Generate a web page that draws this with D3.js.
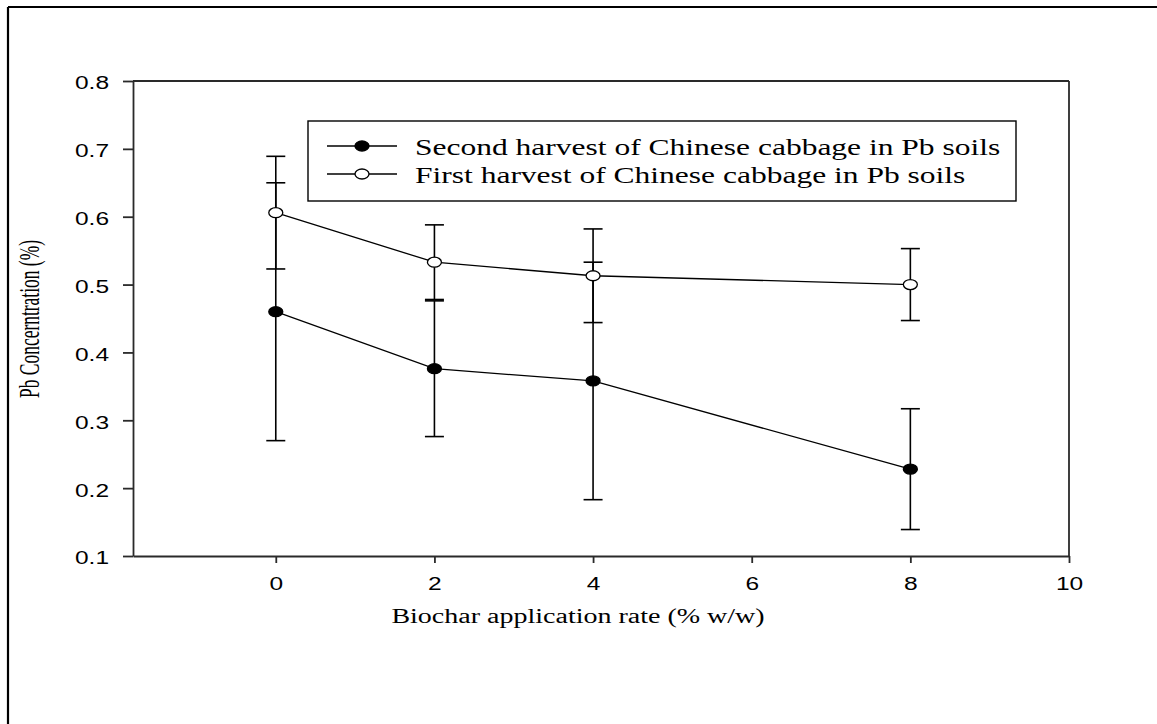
<!DOCTYPE html>
<html>
<head>
<meta charset="utf-8">
<script src="https://cdn.jsdelivr.net/npm/d3@7.9.0/dist/d3.min.js"></script>
<style>
  body { margin: 0; background: #fff; }
  svg { display: block; }
</style>
</head>
<body>
<div id="chart"></div>
<script>
// data
const rates = [0, 2, 4, 8];
const secondHarvest = [0.460, 0.376, 0.358, 0.228];
const secondErr = [0.19, 0.10, 0.175, 0.089];
const firstHarvest = [0.606, 0.533, 0.513, 0.500];
const firstErr = [0.083, 0.055, 0.069, 0.053];
const xTicks = [0, 2, 4, 6, 8, 10];
const yTicks = [0.1, 0.2, 0.3, 0.4, 0.5, 0.6, 0.7, 0.8];
const seriesNames = [
  'Second harvest of Chinese cabbage in Pb soils',
  'First harvest of Chinese cabbage in Pb soils'
];

const width = 1157, height = 724;
const plot = { left: 133, right: 1069, top: 81, bottom: 556 };
const stretch = 1.4; // text in the original is drawn wider than normal

const svg = d3.select('#chart').append('svg')
  .attr('width', width).attr('height', height);

// outer frame (top and left edges visible)
svg.append('line').attr('x1', 8).attr('x2', width).attr('y1', 7).attr('y2', 7)
  .attr('stroke', '#000').attr('stroke-width', 2.2);
svg.append('line').attr('x1', 8).attr('x2', 8).attr('y1', 7).attr('y2', height)
  .attr('stroke', '#000').attr('stroke-width', 2.2);

const x = d3.scaleLinear().domain([-1.8, 10]).range([plot.left, plot.right]);
const y = d3.scaleLinear().domain([0.1, 0.8]).range([plot.bottom, plot.top]);

function widen(sel) {
  sel.each(function () {
    const w = this.getComputedTextLength();
    d3.select(this).attr('textLength', w * stretch).attr('lengthAdjust', 'spacingAndGlyphs');
  });
}

const axisColor = '#2a2a2a';

// y axis
const gy = svg.append('g')
  .attr('transform', `translate(${plot.left},0)`)
  .call(d3.axisLeft(y).tickValues(yTicks).tickFormat(d3.format('.1f'))
    .tickSize(10).tickSizeOuter(0).tickPadding(14));
gy.select('.domain').attr('stroke', axisColor).attr('stroke-width', 1.8);
gy.selectAll('.tick line').attr('stroke', axisColor).attr('stroke-width', 1.8);
gy.selectAll('text')
  .attr('font-family', 'Liberation Sans, Arial, sans-serif')
  .attr('font-size', 17.5).attr('fill', '#000').attr('dy', '0.45em')
  .call(widen);

// x axis
const gx = svg.append('g')
  .attr('transform', `translate(0,${plot.bottom})`)
  .call(d3.axisBottom(x).tickValues(xTicks).tickFormat(d3.format('d'))
    .tickSize(7).tickSizeOuter(0).tickPadding(21));
gx.select('.domain').attr('stroke', axisColor).attr('stroke-width', 1.8);
gx.selectAll('.tick line').attr('stroke', axisColor).attr('stroke-width', 1.8);
gx.selectAll('text')
  .attr('font-family', 'Liberation Sans, Arial, sans-serif')
  .attr('font-size', 17.5).attr('fill', '#000').attr('dy', '0')
  .attr('y', 34)
  .call(widen);

// top and right frame lines
svg.append('line').attr('x1', plot.left).attr('x2', plot.right)
  .attr('y1', plot.top).attr('y2', plot.top)
  .attr('stroke', axisColor).attr('stroke-width', 1.8);
svg.append('line').attr('x1', plot.right).attr('x2', plot.right)
  .attr('y1', plot.top).attr('y2', plot.bottom)
  .attr('stroke', axisColor).attr('stroke-width', 1.8);

// axis titles
svg.append('text')
  .attr('x', 578).attr('y', 623)
  .attr('text-anchor', 'middle')
  .attr('font-family', 'Liberation Serif, Times New Roman, serif')
  .attr('font-size', 20)
  .text('Biochar application rate (% w/w)')
  .call(widen);

svg.append('g')
  .attr('transform', `translate(39,319) scale(1.5,1) rotate(-90)`)
  .append('text')
  .attr('text-anchor', 'middle')
  .attr('font-family', 'Liberation Serif, Times New Roman, serif')
  .attr('font-size', 19)
  .attr('textLength', 158).attr('lengthAdjust', 'spacingAndGlyphs')
  .text('Pb Concerntration (%)');

// series
const series = [
  { values: secondHarvest, err: secondErr, fill: '#000' },
  { values: firstHarvest, err: firstErr, fill: '#fff' }
];

const line = d3.line().x((d, i) => x(rates[i])).y(d => y(d));
const capW = 9.5;

series.forEach(s => {
  const g = svg.append('g');
  s.values.forEach((v, i) => {
    const cx = x(rates[i]);
    const hi = y(v + s.err[i]), lo = y(v - s.err[i]);
    g.append('line').attr('x1', cx).attr('x2', cx).attr('y1', hi).attr('y2', lo)
      .attr('stroke', '#000').attr('stroke-width', 1.6);
    [hi, lo].forEach(cy => {
      g.append('line').attr('x1', cx - capW).attr('x2', cx + capW)
        .attr('y1', cy).attr('y2', cy)
        .attr('stroke', '#000').attr('stroke-width', 1.6);
    });
  });
});

series.forEach(s => {
  svg.append('path').datum(s.values)
    .attr('d', line)
    .attr('fill', 'none').attr('stroke', '#000').attr('stroke-width', 1.3);
  svg.append('g').selectAll('ellipse')
    .data(s.values)
    .join('ellipse')
    .attr('cx', (d, i) => x(rates[i]))
    .attr('cy', d => y(d))
    .attr('rx', 7).attr('ry', 5)
    .attr('fill', s.fill).attr('stroke', '#000').attr('stroke-width', 1.3);
});

// legend
const legend = svg.append('g');
legend.append('rect')
  .attr('x', 308).attr('y', 121).attr('width', 708).attr('height', 80)
  .attr('fill', '#fff').attr('stroke', '#000').attr('stroke-width', 1.4);

const legendRows = [146, 174];
series.forEach((s, i) => {
  const ly = legendRows[i];
  legend.append('line').attr('x1', 327).attr('x2', 397).attr('y1', ly).attr('y2', ly)
    .attr('stroke', '#000').attr('stroke-width', 1.3);
  legend.append('ellipse').attr('cx', 362).attr('cy', ly).attr('rx', 7).attr('ry', 5)
    .attr('fill', s.fill).attr('stroke', '#000').attr('stroke-width', 1.3);
  legend.append('text')
    .attr('x', 415).attr('y', ly + 9)
    .attr('font-family', 'Liberation Serif, Times New Roman, serif')
    .attr('font-size', 22.5)
    .text(seriesNames[i])
    .call(widen);
});
</script>
</body>
</html>
